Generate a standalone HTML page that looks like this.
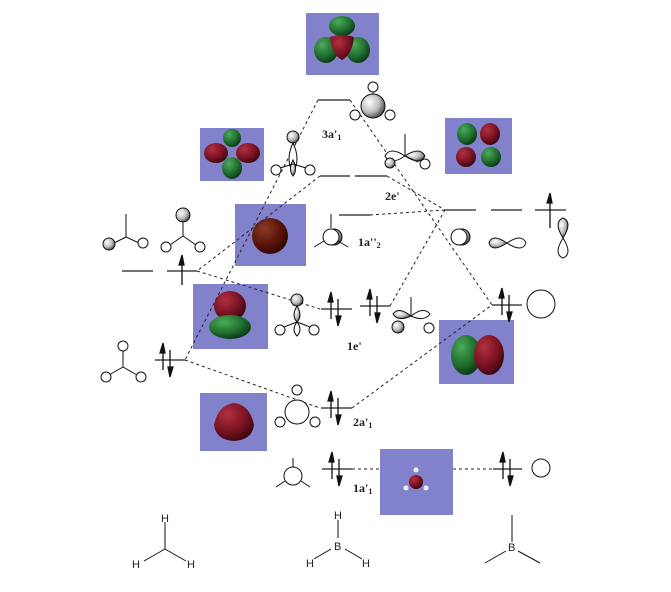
<!DOCTYPE html>
<html><head><meta charset="utf-8"><style>
html,body{margin:0;padding:0;background:#fff}
svg{display:block}
text{font-family:"Liberation Serif",serif;font-weight:bold;font-size:12px;fill:#222}
.h{font-family:"Liberation Sans",sans-serif;font-weight:normal;font-size:11px}
</style></head><body>
<svg width="671" height="592" viewBox="0 0 671 592" xmlns="http://www.w3.org/2000/svg">
<defs>
<radialGradient id="g" cx="0.35" cy="0.35" r="0.7"><stop offset="0" stop-color="#fff"/><stop offset="0.6" stop-color="#bbb"/><stop offset="1" stop-color="#444"/></radialGradient>
<radialGradient id="red" cx="0.35" cy="0.3" r="0.75"><stop offset="0" stop-color="#b03040"/><stop offset="0.6" stop-color="#7a1222"/><stop offset="1" stop-color="#3a0510"/></radialGradient>
<radialGradient id="grn" cx="0.35" cy="0.3" r="0.75"><stop offset="0" stop-color="#4caa5a"/><stop offset="0.6" stop-color="#1f6e2e"/><stop offset="1" stop-color="#0b3514"/></radialGradient>
<radialGradient id="brn" cx="0.35" cy="0.3" r="0.75"><stop offset="0" stop-color="#8a3a2a"/><stop offset="0.6" stop-color="#5a1408"/><stop offset="1" stop-color="#2a0604"/></radialGradient>
<g id="pr" stroke="#111" stroke-width="1.3" fill="#111">
<line x1="0" y1="-14" x2="0" y2="10"/><path d="M-3 -7 L0 -17 L2 -7Z"/>
<line x1="7" y1="-10" x2="7" y2="14"/><path d="M5 7 L7 17 L10 7Z"/>
</g>
</defs>

<g fill="#8282cc">
<rect x="306" y="13" width="73" height="62"/>
<rect x="200" y="128" width="64" height="53"/>
<rect x="445" y="118" width="67" height="56"/>
<rect x="235" y="204" width="71" height="62"/>
<rect x="193" y="284" width="75" height="65"/>
<rect x="439" y="320" width="75" height="64"/>
<rect x="200" y="393" width="67" height="58"/>
<rect x="380" y="449" width="73" height="66"/>
</g>
<ellipse cx="342" cy="26" rx="13" ry="10" fill="url(#grn)"/>
<ellipse cx="326" cy="50" rx="12" ry="13" fill="url(#grn)"/>
<ellipse cx="358" cy="50" rx="12" ry="13" fill="url(#grn)"/>
<path d="M330 37 Q342 33 354 37 Q352 55 342 60 Q332 55 330 37Z" fill="url(#red)"/>
<ellipse cx="232" cy="138" rx="9" ry="9" fill="url(#grn)"/>
<ellipse cx="216" cy="153" rx="12" ry="10" fill="url(#red)"/>
<ellipse cx="248" cy="153" rx="12" ry="10" fill="url(#red)"/>
<ellipse cx="232" cy="168" rx="10" ry="11" fill="url(#grn)"/>
<ellipse cx="467" cy="134" rx="10" ry="11" fill="url(#grn)"/>
<ellipse cx="490" cy="134" rx="10" ry="11" fill="url(#red)"/>
<ellipse cx="466" cy="157" rx="10" ry="10" fill="url(#red)"/>
<ellipse cx="491" cy="157" rx="10" ry="10" fill="url(#grn)"/>
<circle cx="270" cy="236" r="18" fill="url(#brn)"/>
<ellipse cx="230" cy="306" rx="16" ry="15" fill="url(#red)"/>
<ellipse cx="230" cy="327" rx="21" ry="12" fill="url(#grn)"/>
<ellipse cx="466" cy="355" rx="15" ry="20" fill="url(#grn)"/>
<ellipse cx="489" cy="355" rx="15" ry="20" fill="url(#red)"/>
<path d="M234 403 Q250 405 254 425 Q252 440 234 441 Q216 440 214 425 Q218 405 234 403Z" fill="url(#red)"/>
<circle cx="416" cy="482" r="7" fill="url(#red)"/>
<g fill="#eee"><circle cx="416" cy="470" r="2.5"/><circle cx="406" cy="488" r="2.5"/><circle cx="426" cy="488" r="2.5"/></g>

<g stroke="#222" stroke-width="1" stroke-dasharray="3,3" fill="none">
<line x1="318" y1="100" x2="185" y2="360"/>
<line x1="320" y1="176" x2="197" y2="271"/>
<line x1="197" y1="271" x2="320" y2="309"/>
<line x1="185" y1="360" x2="320" y2="408"/>
<line x1="350" y1="100" x2="492" y2="305"/>
<line x1="387" y1="176" x2="445" y2="210"/>
<line x1="370" y1="215" x2="445" y2="210"/>
<line x1="390" y1="306" x2="445" y2="210"/>
<line x1="352" y1="408" x2="492" y2="305"/>
<line x1="352" y1="469" x2="380" y2="469"/>
<line x1="453" y1="469" x2="493" y2="469"/>
</g>

<g stroke="#222" stroke-width="1.3">
<line x1="318" y1="100" x2="350" y2="100"/>
<line x1="320" y1="176" x2="350" y2="176"/>
<line x1="355" y1="176" x2="387" y2="176"/>
<line x1="339" y1="215" x2="370" y2="215"/>
<line x1="122" y1="271" x2="153" y2="271"/>
<line x1="167" y1="271" x2="197" y2="271"/>
<line x1="155" y1="360" x2="185" y2="360"/>
<line x1="321" y1="309" x2="352" y2="309"/>
<line x1="360" y1="306" x2="390" y2="306"/>
<line x1="321" y1="408" x2="352" y2="408"/>
<line x1="322" y1="469" x2="352" y2="469"/>
<line x1="445" y1="210" x2="476" y2="210"/>
<line x1="491" y1="210" x2="522" y2="210"/>
<line x1="535" y1="210" x2="566" y2="210"/>
<line x1="492" y1="305" x2="522" y2="305"/>
<line x1="493" y1="469" x2="522" y2="469"/>
</g>
<g stroke="#111" stroke-width="1.3" fill="#111">
<line x1="182" y1="258" x2="182" y2="285"/><path d="M179 265 L182 255 L184 265Z"/>
<line x1="550" y1="196" x2="550" y2="228"/><path d="M547 203 L550 193 L552 203Z"/>
</g>
<use href="#pr" x="163" y="360"/>
<use href="#pr" x="331" y="309"/>
<use href="#pr" x="370" y="306"/>
<use href="#pr" x="331" y="408"/>
<use href="#pr" x="332" y="469"/>
<use href="#pr" x="502" y="305"/>
<use href="#pr" x="503" y="469"/>

<text x="322" y="138">3a'<tspan font-size="8" dy="2">1</tspan></text>
<text x="385" y="200">2e'</text>
<text x="358" y="246">1a''<tspan font-size="8" dy="2">2</tspan></text>
<text x="347" y="350">1e'</text>
<text x="353" y="426">2a'<tspan font-size="8" dy="2">1</tspan></text>
<text x="353" y="492">1a'<tspan font-size="8" dy="2">1</tspan></text>

<g stroke="#111" stroke-width="1" fill="none">
<line x1="126" y1="214" x2="126" y2="237"/><line x1="126" y1="237" x2="112" y2="244"/><line x1="126" y1="237" x2="139" y2="243"/>
<circle cx="109" cy="244" r="6" fill="url(#g)"/><circle cx="143" cy="243" r="5" fill="#fff"/>
<line x1="183" y1="220" x2="183" y2="236"/><line x1="183" y1="236" x2="170" y2="245"/><line x1="183" y1="236" x2="196" y2="245"/>
<circle cx="183" cy="215" r="7" fill="url(#g)"/><circle cx="166" cy="247" r="5" fill="#fff"/><circle cx="200" cy="247" r="5" fill="#fff"/>
<line x1="123" y1="350" x2="123" y2="367"/><line x1="123" y1="367" x2="109" y2="375"/><line x1="123" y1="367" x2="137" y2="375"/>
<circle cx="123" cy="346" r="5" fill="#fff"/><circle cx="106" cy="377" r="5" fill="#fff"/><circle cx="141" cy="377" r="5" fill="#fff"/>
<circle cx="373" cy="87" r="5" fill="#fff"/><line x1="373" y1="92" x2="373" y2="96"/>
<circle cx="355" cy="115" r="5" fill="#fff"/><circle cx="390" cy="115" r="5" fill="#fff"/>
<circle cx="373" cy="106" r="12" fill="url(#g)"/>
<circle cx="293" cy="137" r="6" fill="url(#g)"/>
<path d="M293 143 Q285 160 293 172 Q301 160 293 143Z" fill="#fff"/>
<path d="M293 160 Q288 170 293 176 Q298 170 293 160Z" fill="url(#g)"/>
<line x1="293" y1="164" x2="280" y2="168"/><line x1="293" y1="164" x2="306" y2="168"/>
<circle cx="276" cy="170" r="5" fill="#fff"/><circle cx="310" cy="170" r="5" fill="#fff"/>
<line x1="405" y1="134" x2="405" y2="156"/>
<path d="M405 156 Q390 146 385 156 Q390 166 405 156Z" fill="#fff"/>
<path d="M405 156 Q420 146 425 156 Q420 166 405 156Z" fill="url(#g)"/>
<line x1="405" y1="156" x2="418" y2="162"/>
<circle cx="390" cy="163" r="5" fill="url(#g)"/><circle cx="425" cy="164" r="5" fill="#fff"/>
<line x1="331" y1="214" x2="331" y2="228"/>
<circle cx="334" cy="237" r="8" fill="url(#g)"/><circle cx="331" cy="237" r="8" fill="#fff"/>
<line x1="324" y1="241" x2="314" y2="247"/><line x1="338" y1="241" x2="348" y2="247"/>
<circle cx="462" cy="237" r="8" fill="url(#g)"/><circle cx="459" cy="237" r="8" fill="#fff"/>
<path d="M507 243 Q492 233 489 243 Q492 253 507 243Z" fill="url(#g)"/>
<path d="M507 243 Q522 233 526 243 Q522 253 507 243Z" fill="#fff"/>
<path d="M563 238 Q553 222 563 218 Q573 222 563 238Z" fill="url(#g)"/>
<path d="M563 238 Q553 254 563 258 Q573 254 563 238Z" fill="#fff"/>
<circle cx="541" cy="304" r="14" fill="#fff"/>
<circle cx="541" cy="468" r="9" fill="#fff"/>
<circle cx="297" cy="300" r="6" fill="url(#g)"/>
<path d="M297 306 Q291 316 297 322 Q303 316 297 306Z" fill="url(#g)"/>
<path d="M297 322 Q291 330 297 336 Q303 330 297 322Z" fill="#fff"/>
<line x1="297" y1="322" x2="284" y2="327"/><line x1="297" y1="322" x2="310" y2="327"/>
<circle cx="280" cy="330" r="5" fill="#fff"/><circle cx="314" cy="330" r="5" fill="#fff"/>
<line x1="411" y1="297" x2="411" y2="316"/>
<path d="M411 316 Q398 306 393 314 Q398 322 411 316Z" fill="url(#g)"/>
<path d="M411 316 Q424 306 430 314 Q424 322 411 316Z" fill="#fff"/>
<circle cx="398" cy="327" r="6" fill="url(#g)"/><circle cx="429" cy="328" r="5" fill="#fff"/>
<circle cx="297" cy="390" r="5" fill="#fff"/>
<circle cx="297" cy="412" r="12" fill="#fff"/>
<circle cx="280" cy="422" r="5" fill="#fff"/><circle cx="315" cy="422" r="5" fill="#fff"/>
<circle cx="293" cy="476" r="9" fill="#fff"/>
<line x1="293" y1="458" x2="293" y2="467"/><line x1="285" y1="481" x2="276" y2="487"/><line x1="301" y1="481" x2="310" y2="487"/>
<line x1="165" y1="522" x2="165" y2="549"/><line x1="165" y1="549" x2="144" y2="561"/><line x1="165" y1="549" x2="186" y2="561"/>
<line x1="338" y1="520" x2="338" y2="538"/><line x1="345" y1="549" x2="362" y2="559"/><line x1="331" y1="549" x2="314" y2="559"/>
<line x1="512" y1="515" x2="512" y2="542"/><line x1="506" y1="551" x2="485" y2="563"/><line x1="518" y1="551" x2="540" y2="563"/>
</g>
<g fill="#111">
<text class="h" x="161" y="522">H</text>
<text class="h" x="132" y="568">H</text>
<text class="h" x="187" y="568">H</text>
<text class="h" x="334" y="519">H</text>
<text class="h" x="334" y="550">B</text>
<text class="h" x="306" y="567">H</text>
<text class="h" x="362" y="567">H</text>
<text class="h" x="508" y="551">B</text>
</g>
</svg>
</body></html>
